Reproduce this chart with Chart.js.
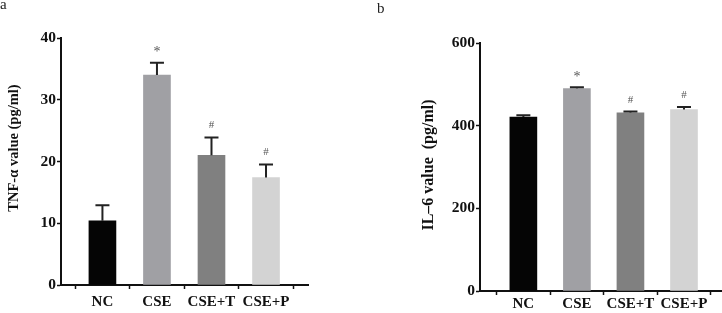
<!DOCTYPE html>
<html>
<head>
<meta charset="utf-8">
<script src="https://cdn.jsdelivr.net/npm/chart.js@4"></script>
<style>
    body { margin: 0; background: #fff; }
    .wrap { position: absolute; top: 0; width: 361px; height: 313px; }
    #wrapA { left: 0; }
    #wrapB { left: 361px; }
</style>
</head>
<body>
<div class="wrap" id="wrapA"><canvas id="chartA"></canvas></div>
<div class="wrap" id="wrapB"><canvas id="chartB"></canvas></div>
<script>
// groups on the x axis
const categories = ['NC', 'CSE', 'CSE+T', 'CSE+P'];
const barColors = ['#050505', '#a0a0a4', '#808080', '#d3d3d3'];
const marks = ['', '*', '#', '#'];

// panel a: TNF-α (pg/ml)
const tnfValues = [10.4, 34.0, 21.0, 17.4];
const tnfErrors = [2.5, 2.0, 2.9, 2.1];
const tnfTicks = [0, 10, 20, 30, 40];

// panel b: IL-6 (pg/ml)
const il6Values = [421, 490, 431, 439];
const il6Errors = [4, 3, 3, 6];
const il6Ticks = [0, 200, 400, 600];

const serif = '"Liberation Serif", "Times New Roman", serif';

// error bars (upward only) and significance marks
const errorBarPlugin = {
    id: 'errorBars',
    afterDatasetsDraw(chart, args, opts) {
        const ctx = chart.ctx;
        const xs = chart.scales.x;
        const ys = chart.scales.y;
        const values = chart.data.datasets[0].data;
        ctx.save();
        values.forEach((p, i) => {
            const x = xs.getPixelForValue(p.x);
            const yBar = ys.getPixelForValue(p.y);
            const yTop = ys.getPixelForValue(p.y + opts.errors[i]);
            ctx.strokeStyle = '#222';
            ctx.lineWidth = 2;
            ctx.beginPath();
            ctx.moveTo(x, yBar);
            ctx.lineTo(x, yTop);
            ctx.moveTo(x - 7, yTop);
            ctx.lineTo(x + 7, yTop);
            ctx.stroke();
            if (marks[i]) {
                const star = marks[i] === '*';
                ctx.fillStyle = '#555';
                ctx.font = (star ? '14px ' : '11px ') + serif;
                ctx.textAlign = 'center';
                ctx.textBaseline = 'middle';
                ctx.fillText(marks[i], x, yTop - (star ? 10 : 12));
            }
        });
        ctx.restore();
    }
};

// panel letter and rotated y title
const panelTextPlugin = {
    id: 'panelText',
    afterDraw(chart, args, opts) {
        const ctx = chart.ctx;
        ctx.save();
        ctx.fillStyle = '#222';
        ctx.font = '15px ' + serif;
        ctx.textAlign = 'left';
        ctx.textBaseline = 'middle';
        ctx.fillText(opts.letter, opts.letterX, opts.letterY);

        ctx.fillStyle = '#111';
        ctx.font = 'bold ' + opts.titleSize + 'px ' + serif;
        ctx.textAlign = 'center';
        ctx.translate(opts.titleX, opts.titleY);
        ctx.rotate(-Math.PI / 2);
        ctx.fillText(opts.title, 0, 0);
        ctx.restore();
    }
};

function makeChart(id, cfg) {
    const ctx = document.getElementById(id).getContext('2d');
    return new Chart(ctx, {
        type: 'bar',
        data: {
            datasets: [{
                data: cfg.values.map((v, i) => ({ x: i, y: v })),
                backgroundColor: barColors,
                borderWidth: 0,
                barThickness: 27
            }]
        },
        options: {
            responsive: true,
            maintainAspectRatio: false,
            devicePixelRatio: 1,
            animation: false,
            layout: { padding: cfg.padding },
            plugins: {
                legend: { display: false },
                tooltip: { enabled: false },
                errorBars: { errors: cfg.errors },
                panelText: cfg.panel
            },
            scales: {
                x: {
                    type: 'linear',
                    offset: false,
                    min: cfg.xMin,
                    max: cfg.xMax,
                    afterBuildTicks: scale => { scale.ticks = categories.map((c, i) => ({ value: i })); },
                    afterFit: scale => { scale.height = cfg.xHeight; },
                    ticks: {
                        callback: v => categories[v],
                        color: '#111',
                        padding: cfg.xPad,
                        maxRotation: 0,
                        autoSkip: false,
                        font: { family: serif, size: 15, weight: 'bold' }
                    },
                    grid: { drawOnChartArea: false, tickLength: 4, color: '#111', tickWidth: 1.5 },
                    border: { color: '#111', width: 2 }
                },
                y: {
                    min: 0,
                    max: cfg.ticks[cfg.ticks.length - 1],
                    afterBuildTicks: scale => { scale.ticks = cfg.ticks.map(v => ({ value: v })); },
                    afterFit: scale => { scale.width = cfg.yWidth; },
                    ticks: {
                        color: '#111',
                        padding: 1,
                        font: { family: serif, size: 15.5, weight: 'bold' }
                    },
                    grid: { drawOnChartArea: false, tickLength: 4, color: '#111', tickWidth: 1.5 },
                    border: { color: '#111', width: 2 }
                }
            }
        },
        plugins: [errorBarPlugin, panelTextPlugin]
    });
}

makeChart('chartA', {
    values: tnfValues,
    errors: tnfErrors,
    ticks: tnfTicks,
    padding: { left: 0, right: 53, top: 38, bottom: 0 },
    yWidth: 61,
    xHeight: 28,
    xPad: 4,
    xMin: -0.76,
    xMax: 3.77,
    panel: { letter: 'a', letterX: 0, letterY: 5, title: 'TNF-α value (pg/ml)', titleSize: 14.5, titleX: 14, titleY: 148 }
});

makeChart('chartB', {
    values: il6Values,
    errors: il6Errors,
    ticks: il6Ticks,
    padding: { left: 0, right: 0, top: 43, bottom: 0 },
    yWidth: 119,
    xHeight: 22,
    xPad: 0,
    xMin: -0.81,
    xMax: 3.71,
    panel: { letter: 'b', letterX: 16, letterY: 9, title: 'IL–6 value  (pg/ml)', titleSize: 16, titleX: 68, titleY: 165 }
});
</script>
</body>
</html>
